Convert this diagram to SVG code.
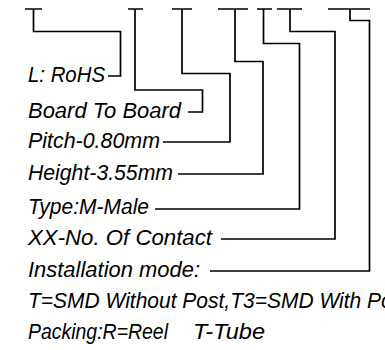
<svg xmlns="http://www.w3.org/2000/svg" width="385" height="350" viewBox="0 0 385 350">
<style>
.t{font-family:"Liberation Sans",Arial,sans-serif;font-style:italic;font-size:22px;fill:#000}
.c{fill:none;stroke:#000;stroke-width:1.7;stroke-linejoin:miter;stroke-linecap:butt}
</style>
<rect width="385" height="350" fill="#fff"/>
<g id="connectors" class="c">
<path d="M25 9H42M33.5 9V31.5H120.5V76H108"/>
<path d="M128 9H143M135 9V90H202.5V112H188"/>
<path d="M172 9H192M182 9V73.5H230V142H163"/>
<path d="M218 9H248M235 9V61.5H263V174H178"/>
<path d="M257 9H272M263.5 9V43.5H299.5V209H155"/>
<path d="M277 9H302M290 9V31.5H335V239H221"/>
<path d="M328 9H370M350 9V20.5H369.5V271H210"/>
</g>
<g id="n1"><text class="t" x="28" y="82" textLength="77" lengthAdjust="spacingAndGlyphs">L: RoHS</text></g>
<g id="n2"><text class="t" x="28" y="118" textLength="153" lengthAdjust="spacingAndGlyphs">Board To Board</text></g>
<g id="n3"><text class="t" x="28" y="148" textLength="132" lengthAdjust="spacingAndGlyphs">Pitch-0.80mm</text></g>
<g id="n4"><text class="t" x="28" y="180" textLength="145" lengthAdjust="spacingAndGlyphs">Height-3.55mm</text></g>
<g id="n5"><text class="t" x="28" y="214" textLength="121" lengthAdjust="spacingAndGlyphs">Type:M-Male</text></g>
<g id="n6"><text class="t" x="28" y="245" textLength="184" lengthAdjust="spacingAndGlyphs">XX-No. Of Contact</text></g>
<g id="n7"><text class="t" x="28" y="277" textLength="172" lengthAdjust="spacingAndGlyphs">Installation mode:</text></g>
<g id="n8"><text class="t" x="28" y="308" textLength="381" lengthAdjust="spacingAndGlyphs">T=SMD Without Post,T3=SMD With Post</text></g>
<g id="n9"><text class="t" x="28" y="339" textLength="140" lengthAdjust="spacingAndGlyphs">Packing:R=Reel</text><text class="t" x="193" y="339" textLength="72" lengthAdjust="spacingAndGlyphs">T-Tube</text></g>
</svg>
